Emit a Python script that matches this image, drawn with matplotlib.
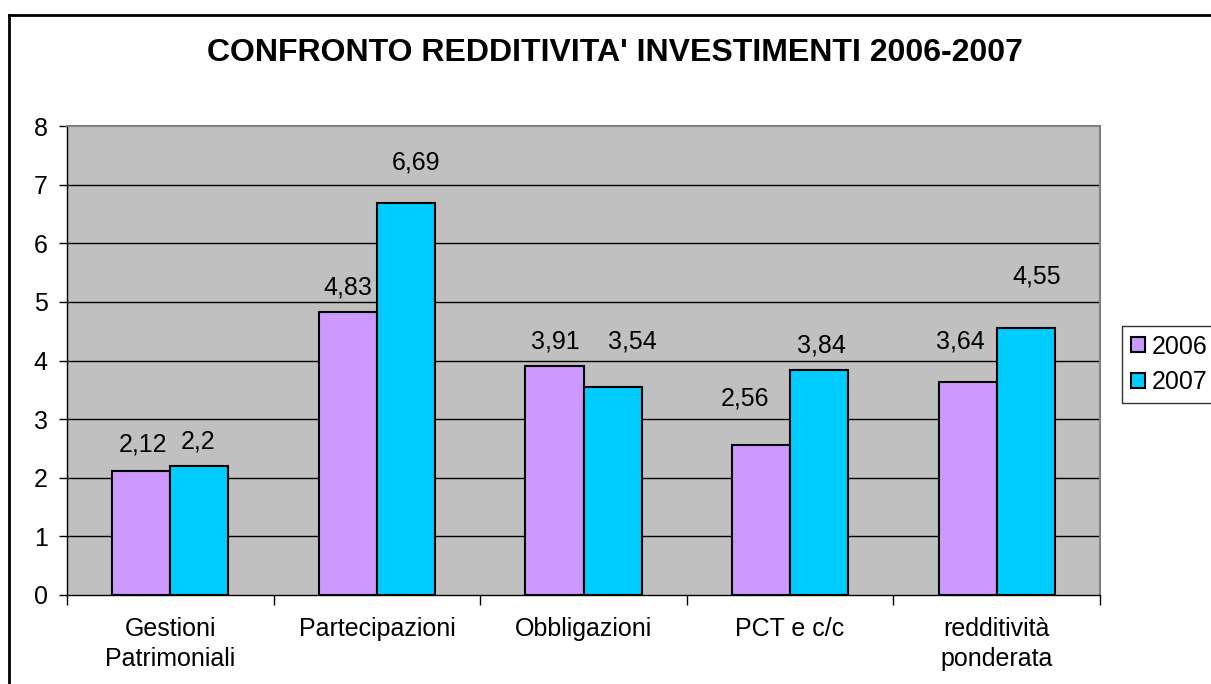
import matplotlib
matplotlib.use("Agg")
import matplotlib.pyplot as plt
import numpy as np
from matplotlib.lines import Line2D
from matplotlib.transforms import offset_copy

plt.rcParams['font.family'] = ['Liberation Sans', 'DejaVu Sans']

categories = ["Gestioni\nPatrimoniali", "Partecipazioni", "Obbligazioni", "PCT e c/c", "redditività\nponderata"]
values_2006 = [2.12, 4.83, 3.91, 2.56, 3.64]
values_2007 = [2.2, 6.69, 3.54, 3.84, 4.55]
labels_2006 = ["2,12", "4,83", "3,91", "2,56", "3,64"]
labels_2007 = ["2,2", "6,69", "3,54", "3,84", "4,55"]
series_names = ["2006", "2007"]
title = "CONFRONTO REDDITIVITA' INVESTIMENTI 2006-2007"

# manual data-label placement (as in the original chart)
lab_y_2006 = [2.56, 5.24, 4.32, 3.36, 4.33]
lab_y_2007 = [2.61, 7.37, 4.32, 4.25, 5.44]
lab_dx_2006 = [2, 0, 1, -16, -7]
lab_dx_2007 = [-1, 10, 20, 2, 11]

FS = 18
W, H = 1211, 684
fig = plt.figure(figsize=(W / 100, H / 100), dpi=100)
ax = fig.add_axes([67 / W, 1 - 595 / H, (1100 - 67) / W, (595 - 126) / H])

c06, c07 = "#CC99FF", "#00CCFF"
x = np.arange(len(categories))
bw = 0.281
ax.set_facecolor("#C0C0C0")
ax.set_xlim(-0.5, len(categories) - 0.5)
ax.set_ylim(0, 8)
for yv in range(1, 8):
    ax.axhline(yv, color="black", lw=1.0, zorder=1)
b1 = ax.bar(x - bw / 2, values_2006, bw, color=c06, edgecolor="black", lw=1.5, zorder=3, label=series_names[0])
b2 = ax.bar(x + bw / 2, values_2007, bw, color=c07, edgecolor="black", lw=1.5, zorder=3, label=series_names[1])

for i in range(len(categories)):
    t1 = offset_copy(ax.transData, fig=fig, x=lab_dx_2006[i] * 0.72, y=0, units='points')
    ax.text(x[i] - bw / 2, lab_y_2006[i], labels_2006[i], transform=t1, ha="center", va="center",
            fontsize=FS, zorder=5)
    t2 = offset_copy(ax.transData, fig=fig, x=lab_dx_2007[i] * 0.72, y=0, units='points')
    ax.text(x[i] + bw / 2, lab_y_2007[i], labels_2007[i], transform=t2, ha="center", va="center",
            fontsize=FS, zorder=5)

ax.set_yticks(range(0, 9))
ax.tick_params(axis="y", length=6, width=1, pad=8, labelsize=FS, direction="out")
ax.set_xticks(x)
ax.set_xticklabels(categories, fontsize=FS, linespacing=1.3)
ax.tick_params(axis="x", length=0, pad=16)
ax.set_xticks(np.arange(-0.5, len(categories)), minor=True)
ax.tick_params(axis="x", which="minor", length=7, width=1, direction="out")

for s in ["left", "bottom"]:
    ax.spines[s].set_color("black")
    ax.spines[s].set_linewidth(1.0)
for s in ["top", "right"]:
    ax.spines[s].set_color("#808080")
    ax.spines[s].set_linewidth(1.5)

fig.text(615 / W, 1 - 53 / H, title, ha="center", va="center", fontsize=23, fontweight="bold")

leg = fig.legend(handles=[b1, b2], labels=series_names, loc="upper left",
                 bbox_to_anchor=(1122 / W, 1 - 326 / H), fontsize=FS, frameon=True,
                 fancybox=False, edgecolor="black", handlelength=0.55, handleheight=0.55,
                 handletextpad=0.3, borderpad=0.35, labelspacing=0.45, borderaxespad=0)
leg.get_frame().set_linewidth(1.0)

# outer chart frame
fig.add_artist(Line2D([9 / W, 9 / W], [1 - 15 / H, 0], color="black", lw=2, transform=fig.transFigure))
fig.add_artist(Line2D([9 / W, 1], [1 - 15 / H, 1 - 15 / H], color="black", lw=2, transform=fig.transFigure))

fig.savefig("out.png", dpi=100, facecolor="white")
